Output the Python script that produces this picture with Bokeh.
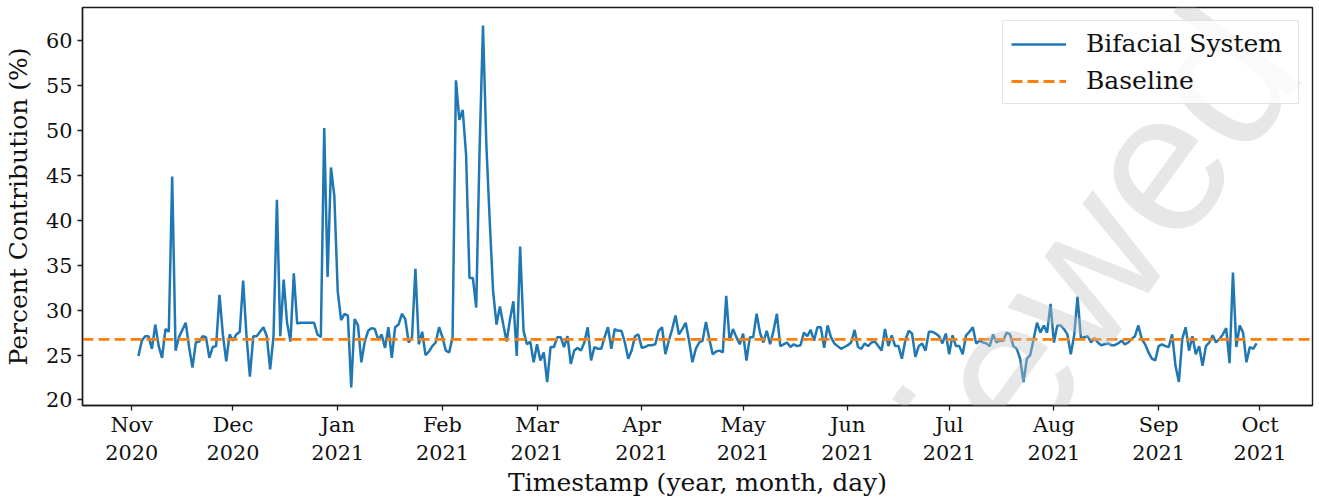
import math
import pandas as pd
from bokeh.plotting import figure
from bokeh.models import (Range1d, MonthsTicker, DatetimeTickFormatter, FixedTicker,
                          Legend, LegendItem, Label)
from bokeh.embed import file_html
from bokeh.resources import INLINE

# Daily percent contribution of the bifacial system, in three consecutive blocks
start_a = "2020-11-03"
values_a = [
    24.9, 26.6, 27.1, 27.1, 25.7, 28.4, 26.0, 24.7, 27.9, 27.6,
    44.9, 25.5, 27.0, 27.8, 28.6, 25.9, 23.6, 26.4, 26.5, 27.1,
    27.0, 24.7, 25.9, 26.0, 31.7, 27.3, 24.3, 27.3, 26.6, 27.3,
    27.6, 33.3, 27.1, 22.6, 27.1, 27.1, 27.6, 28.1, 27.1, 23.4,
    27.1, 42.3, 27.1, 33.4, 28.6, 26.5, 34.1, 28.5, 28.6, 28.6,
    28.6, 28.6, 28.6, 27.3, 27.0, 50.3, 33.7, 45.9, 42.7, 32.1,
    28.9, 29.6, 29.4, 21.4, 29.0, 28.3, 24.2, 26.5, 27.7, 28.0,
    27.9, 26.7, 27.3, 25.8, 28.1, 24.7, 28.1, 28.4, 29.6, 29.0,
    26.4, 27.0, 34.6, 26.2, 27.6, 25.0, 25.4, 26.0, 26.4, 28.1,
    27.0, 25.5, 25.3, 27.0, 55.6,
]
start_b = "2021-02-06"
values_b = [
    51.2, 52.3, 47.3, 33.6, 33.6, 30.3, 48.0, 61.7, 48.4, 39.9,
    32.1, 28.4, 30.4, 28.4, 26.5, 29.0, 31.0, 24.9, 37.1, 27.7,
    26.2, 26.5, 24.2, 26.2, 24.4, 25.3, 22.0, 25.9, 25.9, 27.0,
    27.0, 25.9, 27.1, 24.0, 25.5, 25.8, 25.5, 26.4, 28.1, 24.4,
    25.9, 25.7, 25.7, 27.0, 28.1, 25.7, 27.9, 27.7, 27.7, 26.4,
    24.6, 25.5, 27.1, 27.3, 25.8, 25.9, 26.1, 26.1, 26.2, 27.7,
    28.1, 25.1, 26.6, 27.9, 29.4, 27.3, 27.9, 28.6, 26.6, 24.2,
    25.7, 26.4, 26.6, 28.7, 26.8, 25.1, 25.4, 25.5, 25.3, 31.6,
    26.6, 27.9, 27.0, 26.2, 27.4, 24.4, 27.0, 27.0, 29.6, 27.5,
    26.4, 27.7, 26.2, 27.7, 29.6, 26.0, 26.2, 26.4, 25.9, 26.2,
    26.0, 26.1, 27.5, 27.1, 27.8, 26.6, 28.1, 28.1, 25.8, 28.3,
    27.0, 26.3, 26.0, 25.7, 25.9, 26.1,
]
start_c = "2021-06-02"
values_c = [
    26.4, 27.8, 25.9, 25.7, 26.3, 26.0, 26.4, 26.5, 26.0, 25.5,
    27.9, 26.0, 27.2, 26.0, 26.0, 24.6, 26.6, 27.7, 27.4, 24.8,
    26.0, 26.3, 25.5, 27.6, 27.6, 27.4, 27.1, 26.3, 27.4, 25.1,
    27.2, 26.0, 26.0, 25.1, 27.2, 27.6, 28.1, 26.3, 26.6, 26.4,
    26.3, 26.0, 27.3, 26.4, 26.6, 26.6, 27.5, 27.3, 26.0, 25.7,
    24.6, 22.0, 24.6, 25.0, 26.8, 28.6, 27.5, 28.3, 27.5, 30.7,
    26.4, 28.3, 28.3, 27.9, 27.3, 25.1, 27.2, 31.5, 26.9, 27.0,
    27.1, 26.4, 26.9, 26.4, 26.1, 26.2, 26.3, 26.1, 26.1, 26.3,
    26.6, 26.2, 26.4, 26.8, 27.1, 28.3, 26.8, 26.2, 25.3, 24.6,
    24.4, 26.0, 26.2, 26.0, 25.9, 27.3, 23.8, 22.0, 26.8, 28.1,
    25.5, 27.1, 25.1, 26.0, 23.8, 26.0, 26.4, 27.2, 26.4, 26.8,
    27.3, 28.0, 24.1, 34.2, 25.9, 28.3, 27.5, 24.2, 25.9, 25.7, 26.3,
]
baseline = 26.75

series_label = "Bifacial System"
baseline_label = "Baseline"
x_title = "Timestamp (year, month, day)"
y_title = "Percent Contribution (%)"
y_ticks = [20, 25, 30, 35, 40, 45, 50, 55, 60]

dates = []
values = []
for start, vals in ((start_a, values_a), (start_b, values_b), (start_c, values_c)):
    dates.extend(pd.date_range(start, periods=len(vals), freq="D"))
    values.extend(vals)

# matplotlib-like 5% margins
t0, t1 = dates[0], dates[-1]
tpad = (t1 - t0) * 0.05
x_start, x_end = t0 - tpad, t1 + tpad
vmin, vmax = min(values), max(values)
vpad = (vmax - vmin) * 0.05

SERIF = "DejaVu Serif"
BLUE = "#1f77b4"
ORANGE = "#ff7f0e"

p = figure(width=1319, height=500, x_axis_type="datetime",
           output_backend="svg", toolbar_location=None,
           x_range=Range1d(x_start, x_end),
           y_range=Range1d(vmin - vpad, vmax + vpad),
           min_border_left=82, min_border_right=7,
           min_border_top=7, min_border_bottom=94)

p.grid.visible = False
p.outline_line_color = "#1a1a1a"
p.outline_line_width = 1.4
p.background_fill_color = "white"
p.border_fill_color = "white"

series = p.line(dates, values, line_color=BLUE, line_width=2.5)
base = p.line([x_start, x_end], [baseline, baseline], line_color=ORANGE,
              line_width=2.8, line_dash="11 5")

p.xaxis.ticker = MonthsTicker(months=list(range(12)))
p.xaxis.formatter = DatetimeTickFormatter(months="%b\n%Y", days="%b\n%Y")
p.yaxis.ticker = FixedTicker(ticks=y_ticks)

for ax in (p.xaxis, p.yaxis):
    ax.axis_line_color = "#1a1a1a"
    ax.axis_line_width = 1.4
    ax.major_tick_line_color = "#1a1a1a"
    ax.major_tick_line_width = 1.3
    ax.major_tick_out = 5
    ax.major_tick_in = 0
    ax.minor_tick_line_color = None
    ax.major_label_text_font = SERIF
    ax.major_label_text_font_size = "20.8px"
    ax.major_label_text_color = "#111111"
    ax.axis_label_text_font = SERIF
    ax.axis_label_text_font_size = "25px"
    ax.axis_label_text_font_style = "normal"
    ax.axis_label_text_color = "#111111"

p.xaxis.axis_label = x_title
p.yaxis.axis_label = y_title
p.xaxis.major_label_standoff = 2
p.xaxis.axis_label_standoff = 0
p.yaxis.major_label_standoff = 5
p.yaxis.axis_label_standoff = 10

legend = Legend(items=[LegendItem(label=series_label, renderers=[series]),
                       LegendItem(label=baseline_label, renderers=[base])],
                location="top_right", margin=13, padding=8, spacing=8,
                glyph_width=55, glyph_height=28, label_height=28,
                label_width=204, label_standoff=20,
                label_text_font=SERIF, label_text_font_size="25px",
                label_text_color="#111111",
                border_line_color="#cccccc", border_line_width=1.2,
                background_fill_color="white", background_fill_alpha=0.8)
p.add_layout(legend)

# diagonal preprint stamp drawn over the plot area
stamp = Label(x=1170, y=374, x_units="screen", y_units="screen",
              text="Preprint not peer reviewed", text_align="right",
              text_baseline="alphabetic", angle=math.radians(54),
              text_font="Liberation Sans", text_font_size="200px",
              text_color="#c4c4c4", text_alpha=0.4, level="overlay")
p.add_layout(stamp)

open("out.html", "w").write(file_html(p, INLINE))
